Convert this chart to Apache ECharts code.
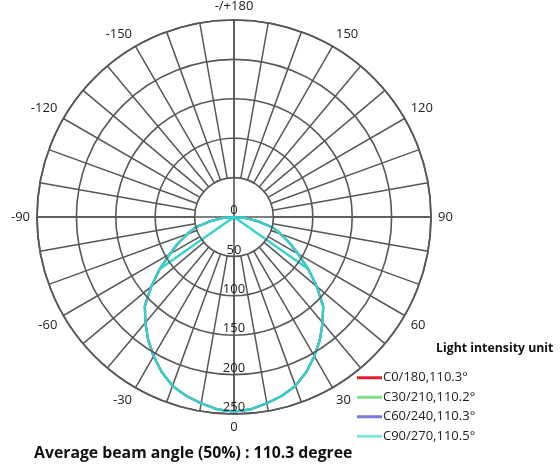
<!DOCTYPE html>
<html><head><meta charset="utf-8">
<script src="https://cdn.jsdelivr.net/npm/echarts@6/dist/echarts.min.js"></script>
<style>html,body{margin:0;padding:0;background:#fff}#c{width:560px;height:468px}</style>
</head><body><div id="c"></div>
<script>
// gamma angles (degrees), 0 = straight down, positive = right side
const gamma = [-90,-85,-80,-75,-70,-65,-60,-55,-50,-45,-40,-35,-30,-25,-20,-15,-10,-5,0,5,10,15,20,25,30,35,40,45,50,55,60,65,70,75,80,85,90];
const c0Values  = [0,14,30,50,63,78,94,115,137,160,175,190,204,217,228,235,240,245,247,245,240,235,228,217,204,190,175,160,137,115,94,78,63,50,30,14,0];
const c30Values = [0,14,30,50,63,78,94,115,137,160,175,190,204,217,228,235,240,245,247,245,240,235,228,217,204,190,175,160,137,115,94,78,63,50,30,14,0];
const c60Values = [0,14,30,50,63,78,94,115,137,160,175,190,204,217,228,235,240,245,247,245,240,235,228,217,204,190,175,160,137,115,94,78,63,50,30,14,0];
// C90/270 trace as drawn (includes the straight strokes to the centre)
const c90Gamma  = [55,90,85,80,75,70,65,60,55,50,45,40,35,30,25,20,15,10,5,0,-5,-10,-15,-20,-25,-30,-35,-40,-45,-50,-55,-60,-65,-70,-75,-80,-85,-90,-55];
const c90Values = [115,0,14,30,50,63,78,94,115,137,160,175,190,204,217,228,235,240,245,247,245,240,235,228,217,204,190,175,160,137,115,94,78,63,50,30,14,0,115];

const seriesNames = ['C0/180,110.3°','C30/210,110.2°','C60/240,110.3°','C90/270,110.5°'];
const lineColors  = ['#e0202e','#6fe07e','#7474e0','#2fd5cb'];
const legendColors= ['#e0202e','#7ee08a','#7878e0','#7fe5d8'];
const radiusTicks = [0,50,100,150,200,250];
const titleText = 'Average beam angle (50%) : 110.3 degree';
const unitText = 'Light intensity unit';

const toAngle = g => (g + 360) % 360;
const pairs = (gs, vs) => gs.map((g, i) => [vs[i], toAngle(g)]);

const FONT = '"Open Sans", sans-serif';
const gridColor = '#575757';
const center = [234, 217];

const chart = echarts.init(document.getElementById('c'));
chart.setOption({
  animation: false,
  textStyle: { fontFamily: FONT },
  title: [
    { text: unitText, left: 436, top: 342, padding: 0, textStyle: { fontSize: 12.3, fontWeight: 'bold', color: '#111', fontFamily: FONT } },
    { text: titleText, left: 34, top: 445, padding: 0, textStyle: { fontSize: 15.8, fontWeight: 'bold', color: '#111', fontFamily: FONT } }
  ],
  legend: {
    orient: 'vertical', left: 357, top: 371, padding: 0,
    icon: 'rect', itemWidth: 25, itemHeight: 3, itemGap: 6,
    textStyle: { fontSize: 13, color: '#222', padding: [0,0,0,-4], lineHeight: 13.5 },
    data: seriesNames.map((n, i) => ({ name: n, itemStyle: { color: legendColors[i] } }))
  },
  polar: [
    { center: center, radius: [0, 197] },
    { center: center, radius: [39.4, 197] }
  ],
  angleAxis: [
    { polarIndex: 0, type: 'value', min: 0, max: 360, interval: 90, startAngle: 270, clockwise: false,
      axisLine: { show: true, lineStyle: { color: gridColor, width: 1.7 } },
      axisTick: { show: false }, axisLabel: { show: false },
      splitLine: { show: true, lineStyle: { color: gridColor, width: 1.6 } } },
    { polarIndex: 1, type: 'value', min: 0, max: 360, interval: 10, startAngle: 270, clockwise: false,
      axisLine: { show: false }, axisTick: { show: false },
      axisLabel: { show: true, margin: 7, fontSize: 13, color: '#222',
        formatter: v => (v % 30 !== 0 || v === 360) ? '' : (v === 180 ? '-/+180' : String(v > 180 ? v - 360 : v)) },
      splitLine: { show: true, lineStyle: { color: gridColor, width: 1.5 } } }
  ],
  radiusAxis: [
    { polarIndex: 0, type: 'value', min: radiusTicks[0], max: radiusTicks[radiusTicks.length-1], interval: 50, z: 5,
      axisLine: { show: false }, axisTick: { show: false },
      axisLabel: { show: true, margin: 0, align: 'center', verticalAlign: 'bottom', fontSize: 13, color: '#222', showMinLabel: true, showMaxLabel: true },
      splitLine: { show: true, lineStyle: { color: gridColor, width: 1.6 } } },
    { polarIndex: 1, type: 'value', min: 0, max: 1,
      axisLine: { show: false }, axisTick: { show: false }, axisLabel: { show: false }, splitLine: { show: false } }
  ],
  series: [
    { name: seriesNames[0], type: 'line', coordinateSystem: 'polar', polarIndex: 0, showSymbol: false, color: lineColors[0], lineStyle: { width: 2.2 }, data: pairs(gamma, c0Values) },
    { name: seriesNames[1], type: 'line', coordinateSystem: 'polar', polarIndex: 0, showSymbol: false, color: lineColors[1], lineStyle: { width: 2.2 }, data: pairs(gamma, c30Values) },
    { name: seriesNames[2], type: 'line', coordinateSystem: 'polar', polarIndex: 0, showSymbol: false, color: lineColors[2], lineStyle: { width: 2.2 }, data: pairs(gamma, c60Values) },
    { name: seriesNames[3], type: 'line', coordinateSystem: 'polar', polarIndex: 0, showSymbol: false, color: lineColors[3], lineStyle: { width: 2.2 }, data: pairs(c90Gamma, c90Values) }
  ]
});
</script></body></html>
